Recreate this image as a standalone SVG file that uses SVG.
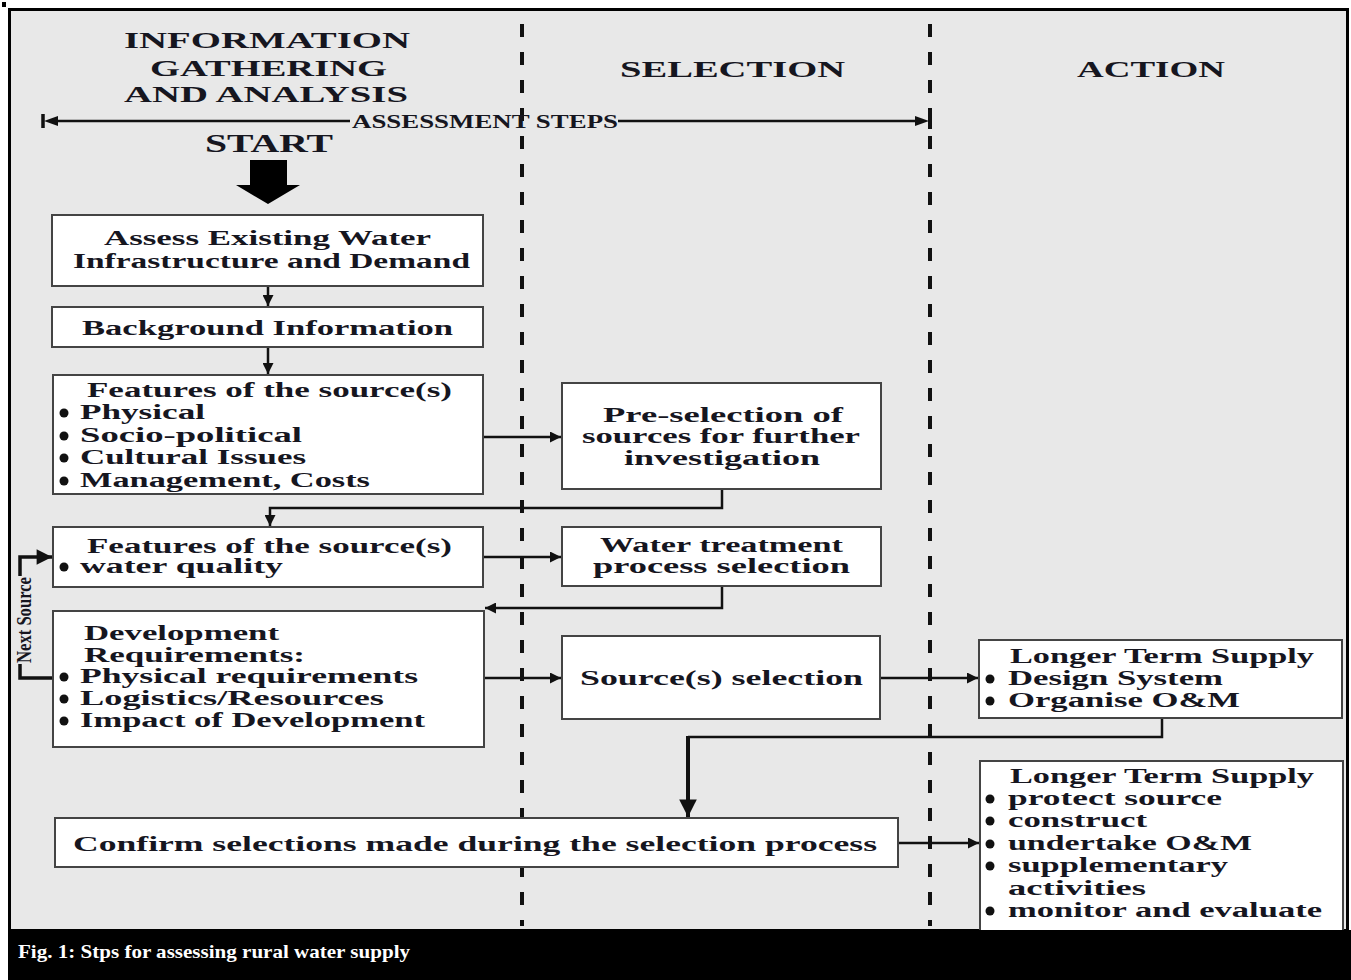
<svg xmlns="http://www.w3.org/2000/svg" width="1351" height="980" viewBox="0 0 1351 980">
<defs>
<style>
.t{font-family:"Liberation Serif","Times New Roman",serif;font-weight:bold;fill:#16161f}
.h{font-size:23px}
.b{font-size:20px}
.box{fill:#fff;stroke:#444;stroke-width:2}
.c{fill:none;stroke:#111;stroke-width:2.5}
.dash{stroke:#111;stroke-width:4;stroke-dasharray:13 15;fill:none}
.dot{fill:#111}
</style>
<marker id="ah" viewBox="0 0 10 10" refX="10" refY="5" markerWidth="6" markerHeight="4.4" markerUnits="strokeWidth" orient="auto">
<path d="M0,0 L10,5 L0,10 z" fill="#111"/>
</marker>
</defs>
<rect x="0" y="0" width="1351" height="980" fill="#fff"/>
<rect x="2" y="2" width="4" height="5" fill="#000"/>
<rect x="9.5" y="9.5" width="1338" height="921" fill="#e8e8e8" stroke="#000" stroke-width="3"/>
<rect x="8" y="930" width="1343" height="50" fill="#000"/>
<text x="18" y="958" font-family="Liberation Serif, serif" font-weight="bold" font-size="19" fill="#fff" textLength="392" lengthAdjust="spacingAndGlyphs">Fig. 1: Stps for assessing rural water supply</text>

<g id="lanes">
<line class="dash" x1="522" y1="24" x2="522" y2="926"/>
<line class="dash" x1="930" y1="24" x2="930" y2="926"/>
<text class="t h" x="124" y="48" textLength="286" lengthAdjust="spacingAndGlyphs">INFORMATION</text>
<text class="t h" x="150" y="76" textLength="237" lengthAdjust="spacingAndGlyphs">GATHERING</text>
<text class="t h" x="124" y="102" textLength="284" lengthAdjust="spacingAndGlyphs">AND ANALYSIS</text>
<text class="t h" x="620" y="77" textLength="225" lengthAdjust="spacingAndGlyphs">SELECTION</text>
<text class="t h" x="1077" y="77" textLength="148" lengthAdjust="spacingAndGlyphs">ACTION</text>
</g>

<g id="assessment-steps">
<line x1="56" y1="121" x2="350" y2="121" stroke="#111" stroke-width="2.5"/>
<line x1="43" y1="114" x2="43" y2="128" stroke="#111" stroke-width="3.5"/>
<path d="M44,121 L58,116 L58,126 z" fill="#111"/>
<line x1="618" y1="121" x2="916" y2="121" stroke="#111" stroke-width="2.5"/>
<path d="M929,121 L915,116 L915,126 z" fill="#111"/>
<line x1="930" y1="113" x2="930" y2="129" stroke="#111" stroke-width="4"/>
<text class="t" font-size="18" x="352" y="128" textLength="266" lengthAdjust="spacingAndGlyphs">ASSESSMENT STEPS</text>
</g>

<g id="start">
<text class="t" font-size="26" x="205" y="152" textLength="128" lengthAdjust="spacingAndGlyphs">START</text>
<path d="M250,160 H287 V185 H300 L268,204 L236,185 H250 z" fill="#000"/>
</g>

<g id="connectors">
<line class="c" x1="268" y1="286" x2="268" y2="306" marker-end="url(#ah)"/>
<line class="c" x1="268" y1="347" x2="268" y2="374" marker-end="url(#ah)"/>
<line class="c" x1="483" y1="437" x2="561" y2="437" marker-end="url(#ah)"/>
<path class="c" d="M722,489 V508 H270 V526" marker-end="url(#ah)"/>
<line class="c" x1="483" y1="557" x2="561" y2="557" marker-end="url(#ah)"/>
<path class="c" d="M722,586 V608 H485" marker-end="url(#ah)"/>
<line class="c" x1="485" y1="678" x2="561" y2="678" marker-end="url(#ah)"/>
<line class="c" x1="880" y1="678" x2="978" y2="678" marker-end="url(#ah)"/>
<path class="c" d="M1162,718 V737 H688"/>
<line x1="688" y1="736" x2="688" y2="817" stroke="#111" stroke-width="4" marker-end="url(#ah)"/>
<line class="c" x1="898" y1="843" x2="979" y2="843" marker-end="url(#ah)"/>
<path d="M53,678 H20 V664" fill="none" stroke="#111" stroke-width="3.5"/>
<path d="M20,576 V557 H52" fill="none" stroke="#111" stroke-width="3.5" marker-end="url(#ah)"/>
<text class="t" font-size="20" transform="translate(31,663) rotate(-90)" textLength="86" lengthAdjust="spacingAndGlyphs">Next Source</text>
</g>

<g id="assess-existing">
<rect class="box" x="52" y="215" width="431" height="71"/>
<text class="t b" x="104" y="245" textLength="327" lengthAdjust="spacingAndGlyphs">Assess Existing Water</text>
<text class="t b" x="73" y="268" textLength="397" lengthAdjust="spacingAndGlyphs">Infrastructure and Demand</text>
</g>

<g id="background-info">
<rect class="box" x="52" y="307" width="431" height="40"/>
<text class="t b" x="82" y="335" textLength="371" lengthAdjust="spacingAndGlyphs">Background Information</text>
</g>

<g id="features-1">
<rect class="box" x="53" y="375" width="430" height="119"/>
<text class="t b" x="87" y="397" textLength="365" lengthAdjust="spacingAndGlyphs">Features of the source(s)</text>
<circle class="dot" cx="64" cy="413" r="4.5"/>
<text class="t b" x="80" y="419" textLength="125" lengthAdjust="spacingAndGlyphs">Physical</text>
<circle class="dot" cx="64" cy="436" r="4.5"/>
<text class="t b" x="80" y="442" textLength="222" lengthAdjust="spacingAndGlyphs">Socio-political</text>
<circle class="dot" cx="64" cy="458" r="4.5"/>
<text class="t b" x="80" y="464" textLength="226" lengthAdjust="spacingAndGlyphs">Cultural Issues</text>
<circle class="dot" cx="64" cy="481" r="4.5"/>
<text class="t b" x="80" y="487" textLength="290" lengthAdjust="spacingAndGlyphs">Management, Costs</text>
</g>

<g id="pre-selection">
<rect class="box" x="562" y="383" width="319" height="106"/>
<text class="t b" x="603" y="422" textLength="240" lengthAdjust="spacingAndGlyphs">Pre-selection of</text>
<text class="t b" x="582" y="443" textLength="278" lengthAdjust="spacingAndGlyphs">sources for further</text>
<text class="t b" x="624" y="465" textLength="196" lengthAdjust="spacingAndGlyphs">investigation</text>
</g>

<g id="features-2">
<rect class="box" x="53" y="527" width="430" height="60"/>
<text class="t b" x="87" y="553" textLength="365" lengthAdjust="spacingAndGlyphs">Features of the source(s)</text>
<circle class="dot" cx="64" cy="567" r="4.5"/>
<text class="t b" x="80" y="573" textLength="203" lengthAdjust="spacingAndGlyphs">water quality</text>
</g>

<g id="water-treatment">
<rect class="box" x="562" y="527" width="319" height="59"/>
<text class="t b" x="600" y="552" textLength="243" lengthAdjust="spacingAndGlyphs">Water treatment</text>
<text class="t b" x="593" y="573" textLength="257" lengthAdjust="spacingAndGlyphs">process selection</text>
</g>

<g id="development">
<rect class="box" x="53" y="611" width="431" height="136"/>
<text class="t b" x="84" y="640" textLength="195" lengthAdjust="spacingAndGlyphs">Development</text>
<text class="t b" x="84" y="662" textLength="221" lengthAdjust="spacingAndGlyphs">Requirements:</text>
<circle class="dot" cx="64" cy="677" r="4.5"/>
<text class="t b" x="80" y="683" textLength="338" lengthAdjust="spacingAndGlyphs">Physical requirements</text>
<circle class="dot" cx="64" cy="699" r="4.5"/>
<text class="t b" x="80" y="705" textLength="304" lengthAdjust="spacingAndGlyphs">Logistics/Resources</text>
<circle class="dot" cx="64" cy="721" r="4.5"/>
<text class="t b" x="80" y="727" textLength="345" lengthAdjust="spacingAndGlyphs">Impact of Development</text>
</g>

<g id="source-selection">
<rect class="box" x="562" y="636" width="318" height="83"/>
<text class="t b" x="580" y="685" textLength="283" lengthAdjust="spacingAndGlyphs">Source(s) selection</text>
</g>

<g id="longer-term-1">
<rect class="box" x="979" y="640" width="363" height="78"/>
<text class="t b" x="1010" y="663" textLength="304" lengthAdjust="spacingAndGlyphs">Longer Term Supply</text>
<circle class="dot" cx="990" cy="679" r="4.5"/>
<text class="t b" x="1008" y="685" textLength="215" lengthAdjust="spacingAndGlyphs">Design System</text>
<circle class="dot" cx="990" cy="701" r="4.5"/>
<text class="t b" x="1008" y="707" textLength="232" lengthAdjust="spacingAndGlyphs">Organise O&amp;M</text>
</g>

<g id="confirm">
<rect class="box" x="55" y="818" width="843" height="49"/>
<text class="t b" x="73" y="851" textLength="804" lengthAdjust="spacingAndGlyphs">Confirm selections made during the selection process</text>
</g>

<g id="longer-term-2">
<rect class="box" x="980" y="761" width="363" height="172"/>
<text class="t b" x="1010" y="783" textLength="304" lengthAdjust="spacingAndGlyphs">Longer Term Supply</text>
<circle class="dot" cx="990" cy="799" r="4.5"/>
<text class="t b" x="1008" y="805" textLength="214" lengthAdjust="spacingAndGlyphs">protect source</text>
<circle class="dot" cx="990" cy="821" r="4.5"/>
<text class="t b" x="1008" y="827" textLength="139" lengthAdjust="spacingAndGlyphs">construct</text>
<circle class="dot" cx="990" cy="844" r="4.5"/>
<text class="t b" x="1008" y="850" textLength="244" lengthAdjust="spacingAndGlyphs">undertake O&amp;M</text>
<circle class="dot" cx="990" cy="866" r="4.5"/>
<text class="t b" x="1008" y="872" textLength="220" lengthAdjust="spacingAndGlyphs">supplementary</text>
<text class="t b" x="1008" y="895" textLength="138" lengthAdjust="spacingAndGlyphs">activities</text>
<circle class="dot" cx="990" cy="911" r="4.5"/>
<text class="t b" x="1008" y="917" textLength="314" lengthAdjust="spacingAndGlyphs">monitor and evaluate</text>
</g>
<rect x="8" y="930" width="1343" height="4" fill="#000"/>
</svg>
